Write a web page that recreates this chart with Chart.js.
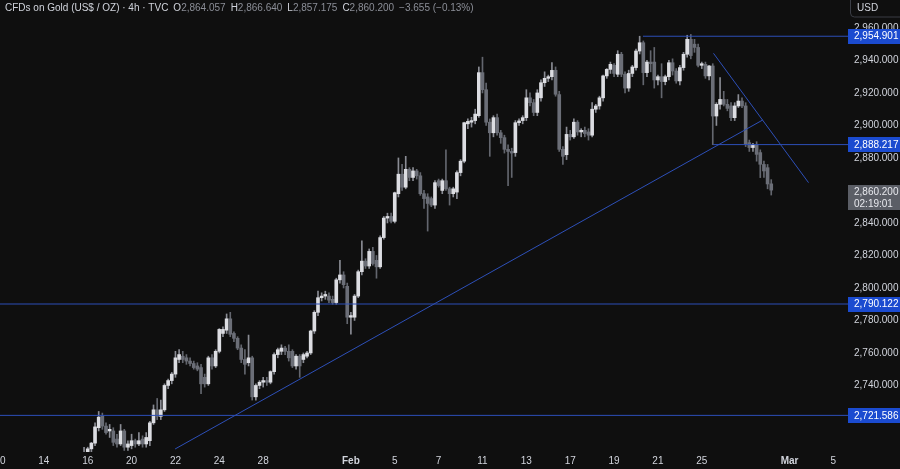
<!DOCTYPE html>
<html><head><meta charset="utf-8">
<script src="https://cdn.jsdelivr.net/npm/chart.js@4.4.1/dist/chart.umd.min.js"></script>
<style>html,body{margin:0;padding:0;background:#0f0f0f;overflow:hidden}#wrap{width:900px;height:469px}</style>
</head><body><div id="wrap"><canvas id="c" width="900" height="469"></canvas></div>
<script>
// ---- DATA (4h candles, index = bar number, 6 bars per trading day, 0 = Jan 10) ----
const startIndex = 23;
const opens = [2693,2699,2701,2704.5,2714,2721,2715,2712,2712,2707,2704,2712,2702,2703,2706,2704,2707,2704,2706,2717,2725,2721,2725,2740,2743,2747,2756,2758,2757,2755,2753.5,2752,2751,2745,2741,2757,2752,2761,2772,2774,2781,2772,2769,2763,2756,2754,2757,2733,2740,2742,2743,2742,2748.5,2759,2761,2763,2761,2761,2752,2758,2756,2758,2760,2773.5,2785,2794,2795,2795,2793,2791,2805,2808,2801,2782,2782,2795,2810,2816.5,2813.5,2822.5,2817,2813,2831,2843,2844,2841,2858,2870,2862,2873,2868,2872,2869,2858,2856,2855,2851,2866,2860,2866,2861,2858,2859,2871,2878,2901,2902,2903,2906,2932.5,2922,2902,2895.5,2904.8,2895.5,2892.5,2885.3,2884,2883.3,2901.7,2903,2904.8,2917,2914,2908,2917,2926.3,2929,2930,2933.9,2919,2885.3,2882,2894.5,2893,2902,2896,2897,2896,2894,2910,2912,2917,2930.5,2934.5,2937,2931.5,2943.8,2931.5,2923,2932,2935.6,2945.8,2950.9,2932.5,2939,2939,2928,2930,2927,2930,2938.6,2933.5,2927.4,2935.6,2943.8,2953,2950,2948,2937,2937.6,2930.5,2936.6,2905.8,2913,2916,2913,2912,2904.8,2912,2915,2912,2889.4,2886.4,2888.4,2883.3,2876,2874,2864.057];
const highs = [2702,2702,2705,2717,2724,2723,2717,2716,2714,2710,2716,2713,2706,2710,2707,2711,2709,2711,2718,2728,2732,2731,2741,2744,2748,2761,2762,2761,2759,2757,2755,2754,2753,2747,2758,2759,2762,2775,2776,2784,2785,2773,2770,2765,2762,2771,2758,2741,2743,2745,2745,2749,2760,2763,2765,2764,2765,2762,2759,2759,2760,2761,2774,2786,2798,2797,2798,2797,2795,2806,2817,2810,2803,2785,2796,2811,2829,2818,2824,2825,2820,2832,2844,2846,2846,2859,2880,2876,2881,2874,2874,2873,2871,2860,2858,2856,2866,2867,2867,2885,2862,2862,2872,2879,2902,2904,2905,2910,2936,2942,2926,2904,2906,2907,2897,2894,2888,2886,2903,2904,2906,2922,2920,2916,2922,2928,2933,2931,2938.7,2936,2921,2887,2899,2897,2904,2903,2898,2899,2898,2914,2913,2918,2931,2935,2939,2938,2946,2945,2933,2934,2937,2947,2954.9,2952,2940,2946,2948,2931,2938,2931,2940,2941,2935,2937,2945,2955.5,2956,2953,2950,2939,2939,2937,2938,2914,2929.4,2921,2916,2914,2914,2919,2917,2914,2891,2889,2890,2885,2878,2876,2866.64];
const lows = [2690,2696,2699,2703,2712,2713,2710,2708,2703,2702,2703,2700,2700,2701,2702,2703,2702,2702,2703,2716,2719,2719,2724,2738,2741,2745,2754,2754,2753,2752,2750,2749,2735,2739,2740,2750,2751,2760,2770,2772,2770,2767,2762,2754,2747,2752,2731,2731,2738,2739,2740,2741,2747,2757,2759,2759,2755,2751,2750,2745,2754,2757,2759,2772,2783,2792,2793,2791,2790,2790,2803,2800,2778,2771.5,2780,2794,2808,2812,2812,2814,2806,2812,2830,2840,2840,2840,2856,2860,2861,2866,2866,2867,2857,2849,2835,2850,2849,2862,2858,2860,2851,2856,2855,2869,2877,2898,2899,2901,2905,2920,2900,2881,2893,2894,2889,2883,2863,2868,2881,2900,2901,2903,2912,2906,2906,2915,2924,2927,2928,2918,2884,2876,2879,2891,2892,2894,2893,2893,2891,2893,2908,2910,2915,2929,2932,2930,2930,2930,2920,2921,2930,2934,2944,2925,2930,2933,2923,2925,2917,2925,2928,2931,2926,2925,2934,2942,2941,2945,2936,2935,2929,2928,2888.2,2900,2910,2912,2909,2903,2903,2911,2911,2887,2884,2884,2878,2867.9,2868,2861,2857.175];
const closes = [2698,2701,2704.5,2714.5,2720.5,2715,2711,2713,2705,2704,2712,2702,2704,2706,2704,2706,2704,2708,2717,2725,2721,2725,2740,2743,2747,2757,2759,2756,2755,2753.5,2751,2750,2741,2741,2757,2752,2761,2774.5,2774.5,2781,2771.5,2769,2763,2756,2753,2757,2733,2740,2742,2743,2742,2748.5,2759,2762,2763,2761,2757,2752,2758,2752,2759,2760,2773.5,2785,2794,2795,2796,2792.5,2791,2805,2808,2802,2782,2783,2795,2810,2816.5,2813.5,2822.5,2815,2813,2831,2843,2844,2841,2858.6,2870,2862,2873,2868,2872,2869,2858,2855,2852,2851,2864.8,2863,2866,2861,2858,2861,2871,2878,2901.7,2902.5,2903,2907,2932.5,2922,2902,2895.5,2904.8,2895.5,2892.5,2885.3,2884,2883,2901.7,2902.8,2904.8,2917,2914,2908,2920,2926.3,2929,2930,2933.9,2919.2,2885.3,2881,2894.5,2893,2902,2896,2897,2895,2894,2910,2912,2917,2930.5,2934.5,2937.6,2932,2943.8,2931.5,2923,2932,2936,2945.8,2950.9,2932.5,2939,2938,2928,2930,2927,2930,2938.6,2933.5,2927.4,2935.6,2943.8,2953,2943,2948,2937,2938,2930.5,2936.6,2905.8,2913,2916,2913,2910.5,2904.8,2912,2915,2912,2888.4,2886.4,2888,2882.2,2876.1,2872,2864,2860.2];

const dayTickIdx = [0,12,24,36,48,60,72,96,108,120,132,144,156,168,180,192,216,228];
const dayLabels  = ['10','14','16','20','22','24','28','Feb','5','7','11','13','17','19','21','25','Mar','5'];
const priceTicks = [2720,2740,2760,2780,2800,2820,2840,2860,2880,2900,2920,2940,2960];

const levelValues = [2954.901, 2888.217, 2790.122, 2721.586];
const levelStartIdx = [175.9, 195.1, 0, 0];
const risingX = [47.9, 208.7];
const risingY = [2700.9, 2903.4];
const fallingX = [195.2, 221.2];
const fallingY = [2944.4, 2864.8];

const lastPrice = 2860.2;
const countdown = '02:19:01';
const header = {title:'CFDs on Gold (US$ / OZ) · 4h · TVC', o:'2,864.057', h:'2,866.640', l:'2,857.175', c:'2,860.200', chg:'−3.655 (−0.13%)'};

// ---- view ----
const X_MIN = 0, X_MAX = 232;
const Y_MAX = 2977.2, Y_MIN = 2699.05;

const FAMILY = '"Liberation Sans", Arial, sans-serif';
const FSIZE = 10;
Chart.defaults.font.family = FAMILY;
Chart.defaults.font.size = FSIZE;

const TXT = '#d1d4dc';
const LINE = '#2d4fb8';
const BOX = '#1b4bd0';

const fmt = v => v.toLocaleString('en-US',{minimumFractionDigits:3, maximumFractionDigits:3});

const idx = opens.map((_,k)=>startIndex+k);
const up = idx.map((_,k)=>closes[k] >= opens[k]);
const wickData = idx.map((x,k)=>({x, y:[lows[k], highs[k]]}));
const bodyData = idx.map((x,k)=>({x, y:[Math.min(opens[k],closes[k]), Math.max(opens[k],closes[k])]}));

function lineDs(pts){
  return {type:'line', data:pts, borderColor:LINE, backgroundColor:LINE, borderWidth:1, pointRadius:0, fill:false, tension:0};
}
const lineSets = levelValues.map((v,j)=>lineDs([{x:levelStartIdx[j], y:v},{x:X_MAX, y:v}]));
lineSets.push(lineDs([{x:risingX[0],y:risingY[0]},{x:risingX[1],y:risingY[1]}]));
lineSets.push(lineDs([{x:fallingX[0],y:fallingY[0]},{x:fallingX[1],y:fallingY[1]}]));

const overlay = {
  id:'overlay',
  beforeDraw(chart){
    const ctx = chart.ctx;
    ctx.save(); ctx.fillStyle = '#0f0f0f'; ctx.fillRect(0,0,chart.width,chart.height); ctx.restore();
  },
  afterDraw(chart){
    const ctx = chart.ctx, ys = chart.scales.y;
    ctx.save();
    ctx.font = '10px ' + FAMILY;
    ctx.textBaseline = 'middle';
    // header, flowed
    let x = 5;
    ctx.fillStyle = TXT; ctx.fillText(header.title, x, 8);
    x += ctx.measureText(header.title).width + 5;
    [['O',header.o],['H',header.h],['L',header.l],['C',header.c]].forEach(([k,v])=>{
      ctx.fillStyle = TXT; ctx.fillText(k, x, 8); x += ctx.measureText(k).width;
      ctx.fillStyle = '#8b8e97'; ctx.fillText(v, x, 8); x += ctx.measureText(v).width + 5;
    });
    ctx.fillStyle = '#8b8e97'; ctx.fillText(header.chg, x, 8);
    ctx.font = FSIZE + 'px ' + FAMILY;
    // USD box
    ctx.strokeStyle = '#3a3d45'; ctx.lineWidth = 1;
    ctx.beginPath();
    if (ctx.roundRect) ctx.roundRect(850.5, -6.5, 60, 23.5, 4); else ctx.rect(850.5,-6.5,60,23.5);
    ctx.stroke();
    ctx.fillStyle = TXT; ctx.fillText('USD', 857, 8);
    // level price boxes
    levelValues.forEach(v=>{
      const y = ys.getPixelForValue(v);
      ctx.fillStyle = BOX; ctx.fillRect(848, Math.round(y-7.5), 52, 15);
      ctx.fillStyle = '#ffffff'; ctx.fillText(fmt(v), 854, y+0.5);
    });
    // last price box
    const yl = ys.getPixelForValue(lastPrice);
    ctx.fillStyle = '#5b5e66'; ctx.fillRect(848, Math.round(yl-5), 52, 25);
    ctx.fillStyle = '#e8e9ee';
    ctx.fillText(fmt(lastPrice), 854, yl+2);
    ctx.fillText(countdown, 854, yl+14);
    ctx.restore();
  }
};

new Chart(document.getElementById('c'), {
  type:'bar',
  data:{ datasets:[
    ...lineSets,
    {label:'body', data:bodyData, grouped:false, barThickness:3, minBarLength:1,
     backgroundColor: up.map(u=>u?'#dcdde2':'#6b6e77'), borderWidth:0},
    {label:'wick', data:wickData, grouped:false, barThickness:1,
     backgroundColor: up.map(u=>u?'#8a8c94':'#63666e'), borderWidth:0}
  ]},
  options:{
    responsive:false, animation:false, devicePixelRatio:1,
    layout:{padding:0},
    plugins:{legend:{display:false}, tooltip:{enabled:false}},
    scales:{
      x:{type:'linear', min:X_MIN, max:X_MAX, offset:false,
         grid:{display:false, drawTicks:false}, border:{display:false},
         afterBuildTicks:s=>{ s.ticks = dayTickIdx.map(v=>({value:v})); },
         afterFit:s=>{ s.height = 17; s.paddingLeft = 0; s.paddingRight = 0; },
         ticks:{autoSkip:false, maxRotation:0, minRotation:0, padding:3, color:TXT,
           callback:(v,i)=>dayLabels[i],
           font:(c)=>({family:FAMILY, size:FSIZE, weight:(dayLabels[c.index]==='Feb'||dayLabels[c.index]==='Mar')?'bold':'normal'})}},
      y:{type:'linear', position:'right', min:Y_MIN, max:Y_MAX,
         grid:{display:false, drawTicks:false}, border:{display:false},
         afterBuildTicks:s=>{ s.ticks = priceTicks.map(v=>({value:v})); },
         afterFit:s=>{ s.width = 52; s.paddingTop = 0; s.paddingBottom = 0; },
         ticks:{padding:6, color:TXT, callback:v=>fmt(v)}}
    }
  },
  plugins:[overlay]
});
</script></body></html>
